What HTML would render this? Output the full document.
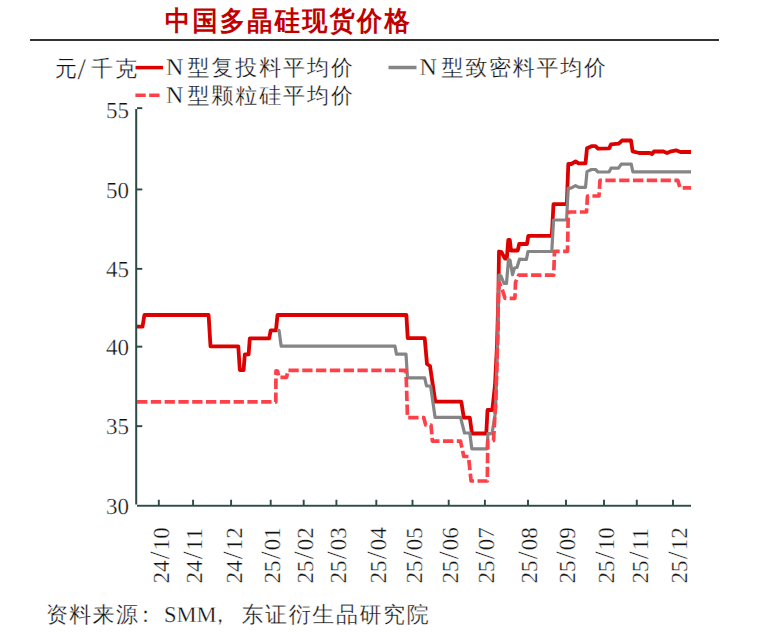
<!DOCTYPE html>
<html><head><meta charset="utf-8">
<style>
html,body{margin:0;padding:0;background:#fff;}
body{width:773px;height:636px;overflow:hidden;position:relative;font-family:"Liberation Serif",serif;}
svg{position:absolute;left:0;top:0;}
text{font-family:"Liberation Serif",serif;text-rendering:geometricPrecision;}
</style></head><body>
<svg width="773" height="636" viewBox="0 0 773 636">
<!-- title -->
<g transform="translate(165 0) scale(0.93 1)"><text x="0" y="29.5" font-size="27" font-weight="bold" fill="#c00000" letter-spacing="2.5">中国多晶硅现货价格</text></g>
<rect x="30" y="39" width="689" height="2" fill="#333"/>

<!-- legend -->
<text y="76" font-size="22" fill="#111" stroke="#fff" stroke-width="0.3"><tspan x="55">元</tspan><tspan x="77.5" y="78.5" font-size="30">/</tspan><tspan x="91" y="76">千</tspan><tspan x="115" y="76">克</tspan></text>
<line x1="135.5" y1="67.6" x2="163" y2="67.6" stroke="#dc0000" stroke-width="3.5"/>
<text y="75" font-size="24" fill="#111" stroke="#fff" stroke-width="0.3"><tspan x="166">N</tspan><tspan x="187.5" font-size="22" letter-spacing="1.9">型复投料平均价</tspan></text>
<line x1="388.5" y1="67.5" x2="416.5" y2="67.5" stroke="#858585" stroke-width="3.5"/>
<text y="75" font-size="24" fill="#111" stroke="#fff" stroke-width="0.3"><tspan x="419.5">N</tspan><tspan x="441.6" font-size="22" letter-spacing="1.75">型致密料平均价</tspan></text>
<line x1="135.4" y1="95.2" x2="160" y2="95.2" stroke="#fe4048" stroke-width="3.5" stroke-dasharray="10.3 3.5"/>
<text y="102.7" font-size="24" fill="#111" stroke="#fff" stroke-width="0.3"><tspan x="166">N</tspan><tspan x="187.5" font-size="22" letter-spacing="1.9">型颗粒硅平均价</tspan></text>

<!-- axes -->
<g fill="#2c4a46">
<rect x="135.2" y="109" width="2" height="395.5"/>
<rect x="137" y="504.8" width="554" height="1.9"/>
<rect x="137" y="107.2" width="5.3" height="1.9"/>
<rect x="137" y="188.5" width="5.3" height="1.9"/>
<rect x="137" y="267.9" width="5.3" height="1.9"/>
<rect x="137" y="345.7" width="5.3" height="1.9"/>
<rect x="137" y="425.2" width="5.3" height="1.9"/>
</g>
<g stroke="#2c4a46" stroke-width="1.9">
<path d="M158.8 505V499.8M193.1 505V499.8M231.1 505V499.8M270.7 505V499.8M303.7 505V499.8M336.4 505V499.8M376.3 505V499.8M412.5 505V499.8M448.7 505V499.8M484.9 505V499.8M528 505V499.8M566 505V499.8M604 505V499.8M636.8 505V499.8M673 505V499.8"/>
</g>

<!-- y labels -->
<g font-size="23" fill="#111" stroke="#fff" stroke-width="0.3" text-anchor="end">
<text x="129" y="118">55</text>
<text x="129" y="197.5">50</text>
<text x="129" y="276.5">45</text>
<text x="129" y="354.5">40</text>
<text x="129" y="434">35</text>
<text x="129" y="513.6">30</text>
</g>

<!-- x labels -->
<g font-size="23" fill="#111" stroke="#fff" stroke-width="0.3">
<text transform="translate(168.5 583.5) rotate(-90)">24<tspan dx="1.2" font-size="28">/</tspan><tspan dx="1.3">10</tspan></text>
<text transform="translate(202.3 583.5) rotate(-90)">24<tspan dx="1.2" font-size="28">/</tspan><tspan dx="1.3">11</tspan></text>
<text transform="translate(242.3 583.5) rotate(-90)">24<tspan dx="1.2" font-size="28">/</tspan><tspan dx="1.3">12</tspan></text>
<text transform="translate(280 583.5) rotate(-90)">25<tspan dx="1.2" font-size="28">/</tspan><tspan dx="1.3">01</tspan></text>
<text transform="translate(313 583.5) rotate(-90)">25<tspan dx="1.2" font-size="28">/</tspan><tspan dx="1.3">02</tspan></text>
<text transform="translate(346 583.5) rotate(-90)">25<tspan dx="1.2" font-size="28">/</tspan><tspan dx="1.3">03</tspan></text>
<text transform="translate(386 583.5) rotate(-90)">25<tspan dx="1.2" font-size="28">/</tspan><tspan dx="1.3">04</tspan></text>
<text transform="translate(422 583.5) rotate(-90)">25<tspan dx="1.2" font-size="28">/</tspan><tspan dx="1.3">05</tspan></text>
<text transform="translate(458 583.5) rotate(-90)">25<tspan dx="1.2" font-size="28">/</tspan><tspan dx="1.3">06</tspan></text>
<text transform="translate(494 583.5) rotate(-90)">25<tspan dx="1.2" font-size="28">/</tspan><tspan dx="1.3">07</tspan></text>
<text transform="translate(537 583.5) rotate(-90)">25<tspan dx="1.2" font-size="28">/</tspan><tspan dx="1.3">08</tspan></text>
<text transform="translate(575 583.5) rotate(-90)">25<tspan dx="1.2" font-size="28">/</tspan><tspan dx="1.3">09</tspan></text>
<text transform="translate(614 583.5) rotate(-90)">25<tspan dx="1.2" font-size="28">/</tspan><tspan dx="1.3">10</tspan></text>
<text transform="translate(648 583.5) rotate(-90)">25<tspan dx="1.2" font-size="28">/</tspan><tspan dx="1.3">11</tspan></text>
<text transform="translate(687 583.5) rotate(-90)">25<tspan dx="1.2" font-size="28">/</tspan><tspan dx="1.3">12</tspan></text>
</g>

<!-- data -->
<g fill="none" stroke-linejoin="round" stroke-linecap="butt">
<path stroke="#dc0000" stroke-width="3.8" d="M137 326.7L142.5 326.7L144.4 315L208.6 315L210.5 346.3L238.3 346.3L239.8 370L243.6 370L244.8 354.3L248.6 354.3L249.8 338.3L269.2 338.3L270.7 330.3L276 330.3L277.5 315L406.4 315L407.7 338.2L424.7 338.2L427 364L430 366L435.3 401.7L461.3 401.7L463.8 417.7L469.8 417.7L472 433.5L486.3 433.5L487.5 410L492.3 410L495 385L497 345L498.4 295L499 251.5L501.5 252L504.8 258.5L506.8 258.5L508.3 240L509.8 240L511 250.5L517.7 250.5L519.2 244L527 244L528.3 235.8L551.8 235.8L553.5 204.2L566.8 204.2L568.3 164L571.3 164L575.6 161.4L578.5 163.3L585.5 163.3L587 148.3L591.5 146.2L595.5 146.2L598 148.6L609.2 148.4L611 144.4L618.5 143.7L620.6 142L622 140.5L631 140.5L632.6 151.3L639.3 153L649.8 153L652 154.2L654 151.5L663.5 151.5L667 153L671.2 151.3L676 150.3L680.4 152L691 152"/>
<path stroke="#858585" stroke-width="3.2" d="M277 330.3L279 330.3L281.2 346.2L395 346.2L396.5 354.2L406 354.2L407.5 377.8L424.7 377.8L426.5 386L430.6 386L435.1 417.4L460.5 417.4L464.5 433L469.8 433L471.8 448.9L487 448.9L488 433.7L492 433.7L495.5 412L497.7 340L498.4 300L499 275L501 276L504 283.5L506.5 283.5L508.5 259.5L510 260L512.5 274.7L514.5 268L517 267.5L519.5 259.2L526.4 259.5L528 251.5L551.8 251.5L553.5 220L566.6 220L568.2 188.2L571 188.2L575.5 185.7L579 187.4L585.5 187.4L587 171.6L591.5 169.5L595.5 169.5L598 172L609.2 171.8L611 168.2L618.5 168.2L621.3 164.2L631.3 164.2L632.8 171.8L691 171.8"/>
<path stroke="#fe4048" stroke-width="3.7" stroke-dasharray="10.3 3.5" d="M137 401.9L275.8 401.9L276 370.8L277.5 371L279 377.4L286.5 377.4L288 370.3L406 370.3L407.5 417.6L423.7 417.6L425.7 425L431 425L432.4 441.1L460.5 441.1L463.8 456.5L468.5 456.5L471.1 481L487.3 481L487.8 440.7L493.5 440.7L495.8 400L497.7 340L498.5 290L499.5 283L502.2 289.4L505 298.3L514.9 298.3L515.5 282.3L518.7 275.2L553.7 275.2L554.5 251.3L567.5 251.3L568.3 212L586.5 212L587.5 196L599 196L600 180.4L677.8 180.4L680 187.8L691 187.8"/>
</g>

<!-- footer -->
<text y="621.5" font-size="22" fill="#111" stroke="#fff" stroke-width="0.3"><tspan x="46" letter-spacing="1.3">资料来源</tspan><tspan x="134.5">：</tspan><tspan x="164" font-size="22.5">SMM</tspan><tspan x="209">，</tspan><tspan x="241.5" letter-spacing="1.6">东证衍生品研究院</tspan></text>
</svg>
</body></html>
